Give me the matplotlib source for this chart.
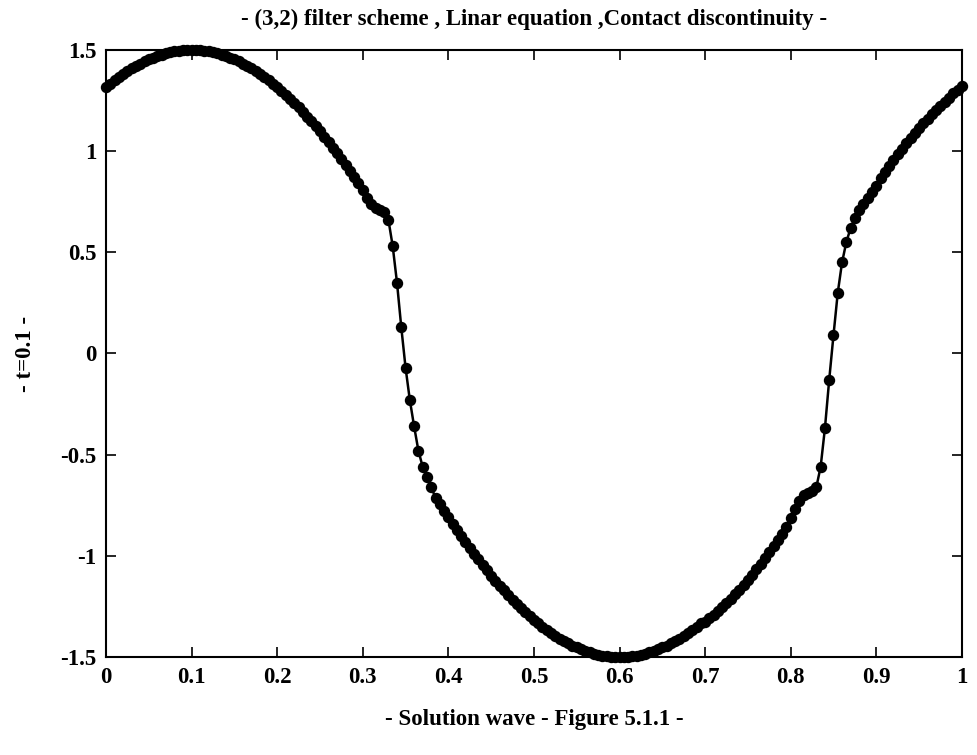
import numpy as np
import matplotlib
matplotlib.use("Agg")
import matplotlib.pyplot as plt

# grid positions (x) and solution values
x_start, x_end, n_points = 0.0, 1.0, 201

y_vals = [
    1.316, 1.334, 1.351, 1.366, 1.382, 1.396, 1.409, 1.421, 1.433, 1.444,   # 0.000-0.045
    1.453, 1.462, 1.470, 1.477, 1.483, 1.488, 1.493, 1.496, 1.498, 1.500,   # 0.050-0.095
    1.500, 1.500, 1.498, 1.496, 1.493, 1.488, 1.483, 1.477, 1.470, 1.462,   # 0.100-0.145
    1.453, 1.444, 1.433, 1.421, 1.409, 1.396, 1.382, 1.366, 1.351, 1.334,   # 0.150-0.195
    1.316, 1.298, 1.279, 1.259, 1.238, 1.217, 1.194, 1.171, 1.147, 1.123,   # 0.200-0.245
    1.098, 1.072, 1.045, 1.018, 0.990, 0.962, 0.932, 0.903, 0.873, 0.842,   # 0.250-0.295
    0.810, 0.770, 0.740, 0.720, 0.710, 0.700, 0.660, 0.530, 0.350, 0.130,   # 0.300-0.345
    -0.070, -0.230, -0.360, -0.480, -0.560, -0.610, -0.660, -0.714, -0.746, -0.779,  # 0.350-0.395
    -0.810, -0.842, -0.873, -0.903, -0.932, -0.962, -0.990, -1.018, -1.045, -1.072,  # 0.400-0.445
    -1.098, -1.123, -1.147, -1.171, -1.194, -1.217, -1.238, -1.259, -1.279, -1.298,  # 0.450-0.495
    -1.316, -1.334, -1.351, -1.366, -1.382, -1.396, -1.409, -1.421, -1.433, -1.444,  # 0.500-0.545
    -1.453, -1.462, -1.470, -1.477, -1.483, -1.488, -1.493, -1.496, -1.498, -1.500,  # 0.550-0.595
    -1.500, -1.500, -1.498, -1.496, -1.493, -1.488, -1.483, -1.477, -1.470, -1.462,  # 0.600-0.645
    -1.453, -1.444, -1.433, -1.421, -1.409, -1.396, -1.382, -1.366, -1.351, -1.334,  # 0.650-0.695
    -1.325, -1.308, -1.290, -1.272, -1.255, -1.235, -1.213, -1.190, -1.167, -1.143,  # 0.700-0.745
    -1.118, -1.093, -1.067, -1.040, -1.012, -0.982, -0.952, -0.921, -0.890, -0.857,  # 0.750-0.795
    -0.815, -0.770, -0.730, -0.700, -0.690, -0.680, -0.660, -0.560, -0.370, -0.130,  # 0.800-0.845
    0.090, 0.300, 0.450, 0.550, 0.620, 0.670, 0.710, 0.740, 0.770, 0.800,   # 0.850-0.895
    0.830, 0.865, 0.895, 0.925, 0.955, 0.985, 1.010, 1.040, 1.065, 1.090,   # 0.900-0.945
    1.115, 1.140, 1.160, 1.185, 1.205, 1.225, 1.245, 1.265, 1.285, 1.300,   # 0.950-0.995
    1.320,                                                                  # 1.000
]

x_ticks = [0, 0.1, 0.2, 0.3, 0.4, 0.5, 0.6, 0.7, 0.8, 0.9, 1]
x_tick_labels = ["0", "0.1", "0.2", "0.3", "0.4", "0.5", "0.6", "0.7", "0.8", "0.9", "1"]
y_ticks = [-1.5, -1, -0.5, 0, 0.5, 1, 1.5]
y_tick_labels = ["-1.5", "-1", "-0.5", "0", "0.5", "1", "1.5"]

title = "- (3,2) filter scheme , Linar equation ,Contact discontinuity -"
xlabel = "- Solution wave - Figure 5.1.1 -"
ylabel = "- t=0.1 -"

x_vals = np.linspace(x_start, x_end, n_points)

plt.rcParams['font.family'] = ['Liberation Serif', 'DejaVu Serif']

fig = plt.figure(figsize=(9.77, 7.55), dpi=100)
ax = fig.add_axes([0.1085, 0.1298, 0.876, 0.804])

ax.plot(x_vals, y_vals, color="black", linewidth=1.8, marker="o",
        markersize=7.2, markerfacecolor="black", markeredgecolor="black",
        clip_on=False)

ax.set_xlim(0, 1)
ax.set_ylim(-1.5, 1.5)
ax.set_xticks(x_ticks)
ax.set_xticklabels(x_tick_labels)
ax.set_yticks(y_ticks)
ax.set_yticklabels(y_tick_labels)
ax.tick_params(direction="in", length=7, width=1.2, top=True, right=True,
               labelsize=16.5, pad=7)
for lbl in ax.get_xticklabels() + ax.get_yticklabels():
    lbl.set_fontweight("bold")
for sp in ax.spines.values():
    sp.set_linewidth(1.5)

ax.set_title(title, fontsize=16.5, fontweight="bold", pad=18)
ax.set_xlabel(xlabel, fontsize=16.5, fontweight="bold", labelpad=15)
ax.set_ylabel(ylabel, fontsize=16.5, fontweight="bold", labelpad=17)

fig.savefig("out.png", dpi=100, facecolor="white")
